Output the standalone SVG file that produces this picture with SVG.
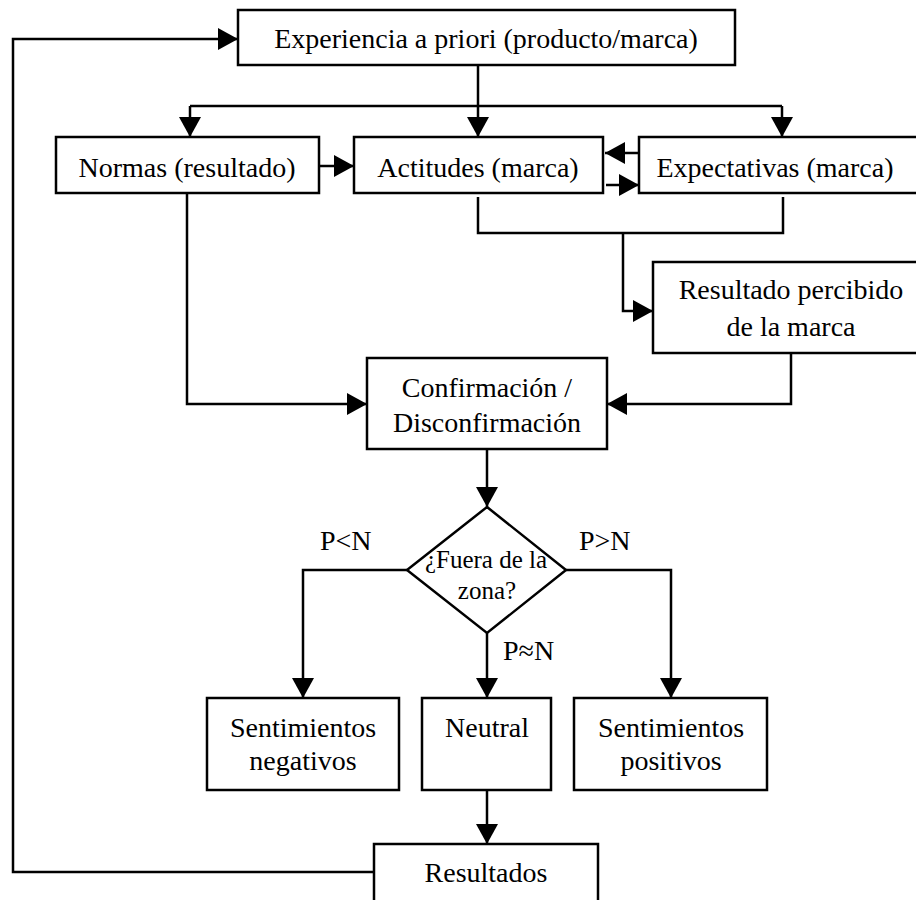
<svg xmlns="http://www.w3.org/2000/svg" width="916" height="900" viewBox="0 0 916 900">
  <style>
    .box { fill: #fff; stroke: #000; stroke-width: 2.5; }
    .edge { fill: none; stroke: #000; stroke-width: 2.5; }
    text { font-family: "Liberation Serif", "Times New Roman", serif; font-size: 28px; fill: #000; text-anchor: middle; }
    .lbl { text-anchor: start; }
    .dia { font-size: 25px; }
  </style>
  <defs>
    <marker id="arrow" markerUnits="userSpaceOnUse" markerWidth="20" markerHeight="22" refX="20" refY="11" orient="auto">
      <path d="M0,0 L20,11 L0,22 Z" fill="#000"/>
    </marker>
  </defs>

  <rect width="916" height="900" fill="#fff"/>

  <!-- connectors -->
  <g id="connectors">
    <polyline class="edge" points="374,872 13,872 13,39 238,39" marker-end="url(#arrow)"/>
    <line class="edge" x1="478" y1="65" x2="478" y2="137" marker-end="url(#arrow)"/>
    <line class="edge" x1="190" y1="106" x2="782" y2="106"/>
    <line class="edge" x1="190" y1="106" x2="190" y2="137" marker-end="url(#arrow)"/>
    <line class="edge" x1="782" y1="106" x2="782" y2="137" marker-end="url(#arrow)"/>
    <line class="edge" x1="319" y1="166" x2="354" y2="166" marker-end="url(#arrow)"/>
    <line class="edge" x1="639" y1="153" x2="605" y2="153" marker-end="url(#arrow)"/>
    <line class="edge" x1="606" y1="185" x2="639" y2="185" marker-end="url(#arrow)"/>
    <polyline class="edge" points="478,197 478,233 783,233 783,197"/>
    <polyline class="edge" points="623,233 623,311 653,311" marker-end="url(#arrow)"/>
    <polyline class="edge" points="791,353 791,404 607,404" marker-end="url(#arrow)"/>
    <polyline class="edge" points="187,193 187,404 367,404" marker-end="url(#arrow)"/>
    <line class="edge" x1="487" y1="449" x2="487" y2="507" marker-end="url(#arrow)"/>
    <polyline class="edge" points="407,570 303,570 303,698" marker-end="url(#arrow)"/>
    <polyline class="edge" points="566,570 671,570 671,698" marker-end="url(#arrow)"/>
    <line class="edge" x1="487" y1="633" x2="487" y2="698" marker-end="url(#arrow)"/>
    <line class="edge" x1="487" y1="790" x2="487" y2="844" marker-end="url(#arrow)"/>
    <text class="lbl" x="320" y="550">P&lt;N</text>
    <text class="lbl" x="579" y="550">P&gt;N</text>
    <text class="lbl" x="503" y="660">P≈N</text>
  </g>

  <!-- nodes -->
  <g id="experiencia">
    <rect class="box" x="238" y="10" width="497" height="55"/>
    <text x="486" y="48">Experiencia a priori (producto/marca)</text>
  </g>
  <g id="normas">
    <rect class="box" x="56" y="137" width="263" height="56"/>
    <text x="187" y="177">Normas (resultado)</text>
  </g>
  <g id="actitudes">
    <rect class="box" x="354" y="137" width="249" height="56"/>
    <text x="478" y="177">Actitudes (marca)</text>
  </g>
  <g id="expectativas">
    <rect class="box" x="639" y="137" width="290" height="56"/>
    <text x="775" y="177">Expectativas (marca)</text>
  </g>
  <g id="resultado-percibido">
    <rect class="box" x="653" y="262" width="280" height="91"/>
    <text x="791" y="299">Resultado percibido</text>
    <text x="791" y="336">de la marca</text>
  </g>
  <g id="confirmacion">
    <rect class="box" x="367" y="358" width="240" height="91"/>
    <text x="487" y="397">Confirmación /</text>
    <text x="487" y="432">Disconfirmación</text>
  </g>
  <g id="fuera-zona">
    <polygon class="box" points="487,507 566,570 487,633 407,570"/>
    <text class="dia" x="486" y="568">¿Fuera de la</text>
    <text class="dia" x="487" y="599">zona?</text>
  </g>
  <g id="negativos">
    <rect class="box" x="207" y="698" width="192" height="92"/>
    <text x="303" y="737">Sentimientos</text>
    <text x="303" y="770">negativos</text>
  </g>
  <g id="neutral">
    <rect class="box" x="422" y="698" width="129" height="92"/>
    <text x="487" y="737">Neutral</text>
  </g>
  <g id="positivos">
    <rect class="box" x="574" y="698" width="193" height="92"/>
    <text x="671" y="737">Sentimientos</text>
    <text x="671" y="770">positivos</text>
  </g>
  <g id="resultados">
    <rect class="box" x="374" y="844" width="224" height="70"/>
    <text x="486" y="882">Resultados</text>
  </g>
</svg>
